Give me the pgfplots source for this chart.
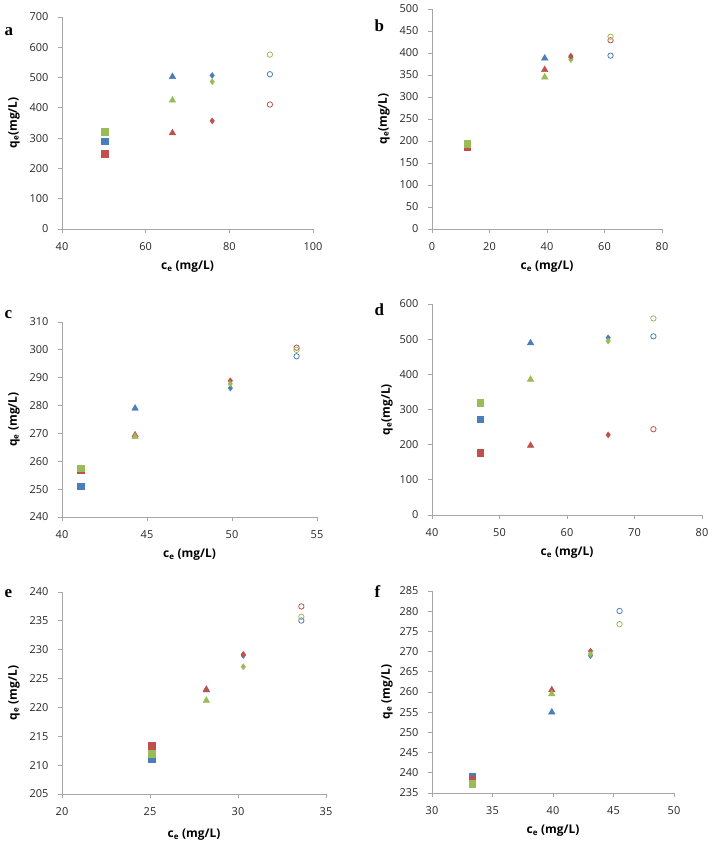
\documentclass[border=0pt]{standalone}
\usepackage{fontspec}
\setmainfont{Open Sans}
\newfontfamily\panelfont{Liberation Serif}
\usepackage{pgfplots}
\pgfplotsset{compat=1.18}
\usepackage{pgfplotstable}

\definecolor{cb}{HTML}{4A7EBB}
\definecolor{cr}{HTML}{C0504D}
\definecolor{cg}{HTML}{9BBB59}

% x, qe, class (colour + shape)
\pgfplotstableread{
x y m
50.2 290 bs
50.2 249 rs
50.2 321 gs
66.4 503 bt
66.4 317 rt
66.4 425 gt
75.9 507 bd
75.9 357 rd
75.9 486 gd
89.7 511 bc
89.7 411 rc
89.7 576 gc
}\tA
\pgfplotstableread{
x y m
12.2 190 bs
12.2 187 rs
12.2 194 gs
39.2 388 bt
39.2 362 rt
39.2 345 gt
48.3 390 bd
48.3 385 gd
48.3 393 rd
62.1 394 bc
62.1 429 rc
62.1 437 gc
}\tB
\pgfplotstableread{
x y m
41.1 251 bs
41.1 257 rs
41.1 257.6 gs
44.3 279 bt
44.3 269.4 rt
44.3 268.8 gt
49.9 286.3 bd
49.9 288.9 rd
49.9 287.8 gd
53.8 297.7 bc
53.8 300.8 rc
53.8 300 gc
}\tC
\pgfplotstableread{
x y m
47.1 272.5 bs
47.1 176.6 rs
47.1 319 gs
54.6 489 bt
54.6 197.5 rt
54.6 385.5 gt
66.1 504 bd
66.1 227.8 rd
66.1 494.6 gd
72.8 508 bc
72.8 244 rc
72.8 559 gc
}\tD
\pgfplotstableread{
x y m
25.1 211 bs
25.1 212 gs
25.1 213.35 rs
28.2 223 bt
28.2 221.2 gt
28.2 223.1 rt
30.3 229 bd
30.3 227.05 gd
30.3 229.2 rd
33.6 235.05 bc
33.6 235.7 gc
33.6 237.5 rc
}\tE
\pgfplotstableread{
x y m
33.3 239.2 bs
33.3 238.4 rs
33.3 237.3 gs
39.9 255 bt
39.9 260.5 rt
39.9 259.5 gt
43.1 269 bd
43.1 270.1 rd
43.1 269.4 gd
45.5 280.05 bc
45.5 276.8 gc
}\tF

\pgfplotsset{
  panel/.style={
    scale only axis, anchor=south west, clip=false,
    axis x line*=bottom, axis y line*=left,
    axis line style={draw=gray!70, line width=0.8pt, -},
    every tick/.style={draw=gray!70, line width=0.8pt},
    tick align=outside, major tick length=4bp,
    font=\fontsize{11}{13}\selectfont,
    ticklabel style={text=black!85},
    xticklabel style={yshift=-6bp},
    yticklabel style={xshift=-6bp},
    /pgf/number format/assume math mode=true,
    /pgf/number format/1000 sep={},
    xlabel={\bfseries c\textsubscript{e} (mg/L)},
    label style={font=\fontsize{12}{14}\selectfont},
    xlabel style={at={(axis description cs:0.5,0)}, anchor=center, yshift=-38bp},
    ylabel style={at={(axis description cs:0,0.5)}, anchor=center, yshift=48bp},
  },
  pts/.style={
    only marks, scatter, scatter src=explicit symbolic,
    scatter/classes={
      bs={mark=square*, mark size=3.2bp, draw=cb, fill=cb},
      rs={mark=square*, mark size=3.2bp, draw=cr, fill=cr},
      gs={mark=square*, mark size=3.2bp, draw=cg, fill=cg},
      bt={mark=triangle*, mark size=3.8bp, draw=cb, fill=cb},
      rt={mark=triangle*, mark size=3.8bp, draw=cr, fill=cr},
      gt={mark=triangle*, mark size=3.8bp, draw=cg, fill=cg},
      bd={mark=diamond*, mark size=3bp, draw=cb, fill=cb},
      rd={mark=diamond*, mark size=3bp, draw=cr, fill=cr},
      gd={mark=diamond*, mark size=3bp, draw=cg, fill=cg},
      bc={mark=o, mark size=2.7bp, draw=cb, line width=0.8pt},
      rc={mark=o, mark size=2.7bp, draw=cr, line width=0.8pt},
      gc={mark=o, mark size=2.7bp, draw=cg, line width=0.8pt}
    },
  },
}

\begin{document}
\begin{tikzpicture}
\useasboundingbox (0,0) rectangle (710bp,842bp);

\begin{axis}[panel, at={(62bp,613bp)}, width=251bp, height=212bp,
  xmin=40, xmax=100, ymin=0, ymax=700, xtick={40,60,...,100}, ytick={0,100,...,700},
  ylabel={\bfseries q\textsubscript{e}(mg/L)}]
\addplot[pts] table[x=x, y=y, meta=m] {\tA};
\end{axis}

\begin{axis}[panel, at={(432bp,613bp)}, width=230bp, height=220bp,
  xmin=0, xmax=80, ymin=0, ymax=500, xtick={0,20,...,80}, ytick={0,50,...,500},
  ylabel={\bfseries q\textsubscript{e}(mg/L)}]
\addplot[pts] table[x=x, y=y, meta=m] {\tB};
\end{axis}

\begin{axis}[panel, at={(62bp,325bp)}, width=255bp, height=195bp,
  xmin=40, xmax=55, ymin=240, ymax=310, xtick={40,45,...,55}, ytick={240,250,...,310},
  ylabel={\bfseries q\textsubscript{e} (mg/L)}]
\addplot[pts] table[x=x, y=y, meta=m] {\tC};
\end{axis}

\begin{axis}[panel, at={(432bp,327bp)}, width=270bp, height=211bp,
  xmin=40, xmax=80, ymin=0, ymax=600, xtick={40,50,...,80}, ytick={0,100,...,600},
  ylabel={\bfseries q\textsubscript{e}(mg/L)}, ylabel style={yshift=-3bp}]
\addplot[pts] table[x=x, y=y, meta=m] {\tD};
\end{axis}

\begin{axis}[panel, at={(62bp,48bp)}, width=264bp, height=202bp,
  xmin=20, xmax=35, ymin=205, ymax=240, xtick={20,25,...,35}, ytick={205,210,...,240},
  ylabel={\bfseries q\textsubscript{e} (mg/L)}, xlabel style={yshift=-3bp}]
\addplot[pts] table[x=x, y=y, meta=m] {\tE};
\end{axis}

\begin{axis}[panel, at={(432bp,49bp)}, width=242bp, height=202bp,
  xmin=30, xmax=50, ymin=235, ymax=285, xtick={30,35,...,50}, ytick={235,240,...,285},
  ylabel={\bfseries q\textsubscript{e} (mg/L)}, ylabel style={yshift=-3bp}]
\addplot[pts] table[x=x, y=y, meta=m] {\tF};
\end{axis}

\begin{scope}[every node/.style={font=\panelfont\bfseries\fontsize{17}{17}\selectfont, anchor=base west}]
\node at (1bp,806bp) {a};
\node at (371bp,810bp) {b};
\node at (1bp,523bp) {c};
\node at (371bp,526bp) {d};
\node at (1bp,244bp) {e};
\node at (371bp,244bp) {f};
\end{scope}
\end{tikzpicture}
\end{document}
